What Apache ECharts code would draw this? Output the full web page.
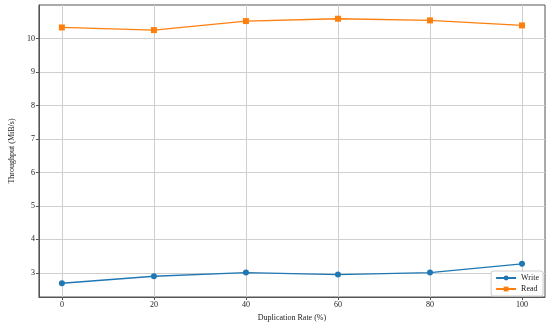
<!DOCTYPE html>
<html><head><meta charset="utf-8">
<script src="https://cdn.jsdelivr.net/npm/echarts@6/dist/echarts.min.js"></script>
<style>html,body{margin:0;padding:0;background:#fff}#c{width:550px;height:327px}</style>
</head><body><div id="c"></div>
<script>
const dupRates = [0, 20, 40, 60, 80, 100];
const writeVals = [2.69, 2.90, 3.01, 2.95, 3.01, 3.27];
const readVals = [10.33, 10.25, 10.52, 10.59, 10.54, 10.39];
const xTicks = [0, 20, 40, 60, 80, 100];
const yTicks = [3, 4, 5, 6, 7, 8, 9, 10];

const font = 'Liberation Serif';
const chart = echarts.init(document.getElementById('c'), null, {renderer: 'canvas'});
const axisCommon = {
  axisLine: {show: true, onZero: false, lineStyle: {color: '#555', width: 1}},
  axisTick: {show: true, inside: false, length: 3, lineStyle: {color: '#555'}},
  axisLabel: {color: '#222', fontFamily: font, fontSize: 8, margin: 4},
  splitLine: {show: true, lineStyle: {color: '#cfcfcf', width: 1}},
  nameTextStyle: {color: '#222', fontFamily: font, fontSize: 8}
};
chart.setOption({
  animation: false,
  backgroundColor: '#fff',
  grid: {left: 29, right: 5, top: 5, bottom: 29, show: true, borderColor: '#555', borderWidth: 1, backgroundColor: 'transparent'},
  legend: {
    right: 7, bottom: 31, orient: 'vertical', itemGap: 3,
    backgroundColor: '#fff', borderColor: '#ccc', borderWidth: 1, borderRadius: 2, padding: [3, 4, 3, 4],
    itemWidth: 20, itemHeight: 6,
    textStyle: {fontFamily: font, fontSize: 8, color: '#222'},
    data: ['Write', 'Read']
  },
  xAxis: Object.assign({}, axisCommon, {
    type: 'value', min: -5, max: 105,
    name: 'Duplication Rate (%)', nameLocation: 'middle', nameGap: 17,
    axisTick: Object.assign({}, axisCommon.axisTick, {customValues: xTicks}),
    axisLabel: Object.assign({}, axisCommon.axisLabel, {customValues: xTicks}),
    splitLine: axisCommon.splitLine
  }),
  yAxis: Object.assign({}, axisCommon, {
    type: 'value', min: 2.28, max: 11.0,
    name: 'Throughput (MiB/s)', nameLocation: 'middle', nameGap: 21,
    axisTick: Object.assign({}, axisCommon.axisTick, {customValues: yTicks}),
    axisLabel: Object.assign({}, axisCommon.axisLabel, {customValues: yTicks}),
    splitLine: axisCommon.splitLine
  }),
  series: [
    {name: 'Write', type: 'line', data: dupRates.map((x, i) => [x, writeVals[i]]),
     symbol: 'circle', symbolSize: 6, itemStyle: {color: '#1f77b4'}, lineStyle: {width: 1.3, color: '#1f77b4'}},
    {name: 'Read', type: 'line', data: dupRates.map((x, i) => [x, readVals[i]]),
     symbol: 'rect', symbolSize: 6, itemStyle: {color: '#ff7f0e'}, lineStyle: {width: 1.3, color: '#ff7f0e'}}
  ]
});
</script></body></html>
